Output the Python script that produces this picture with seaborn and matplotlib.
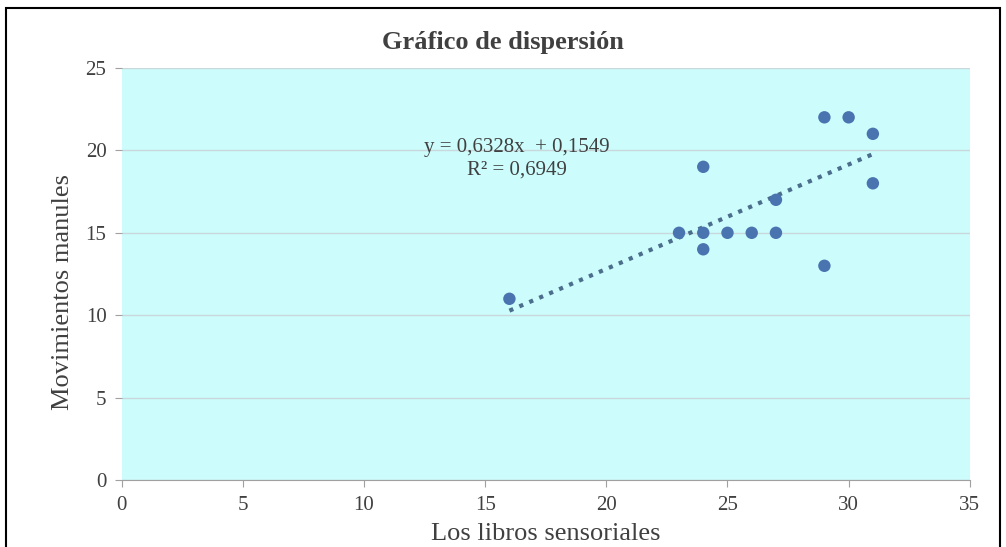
import numpy as np
import pandas as pd
import matplotlib
matplotlib.use("Agg")
import matplotlib.pyplot as plt
import seaborn as sns
from matplotlib.patches import Rectangle

# data
libros = [16, 23, 24, 24, 24, 25, 26, 27, 27, 29, 29, 30, 31, 31]
movimientos = [11, 15, 15, 19, 14, 15, 15, 15, 17, 22, 13, 22, 21, 18]
slope = 0.6328
intercept = 0.1549
r2 = 0.6949

df = pd.DataFrame({"x": libros, "y": movimientos})

sns.set_style("white")
plt.rcParams['font.family'] = ['Liberation Serif', 'DejaVu Serif']

fig = plt.figure(figsize=(10.06, 5.47), dpi=100)
ax = fig.add_axes([0.121, 0.122, 0.843, 0.754])
ax.set_facecolor("#ccfcfc")

sns.scatterplot(x="x", y="y", data=df, ax=ax, color="#4a74b0", s=80,
                edgecolor="none", zorder=3)

# linear trendline (dotted)
xs = np.array([min(libros), max(libros)])
ax.plot(xs, slope * xs + intercept, linestyle=(0, (1, 1.6)), linewidth=3,
        color="#4b6e8c", zorder=2)

ax.text(16.3, 20.2, "y = 0,6328x  + 0,1549", ha="center", va="center",
        fontsize=15, color="#404040")
ax.text(16.3, 18.8, "R² = 0,6949", ha="center", va="center",
        fontsize=15, color="#404040")

ax.set_xlim(0, 35)
ax.set_ylim(0, 25)
ax.set_xticks(range(0, 36, 5))
ax.set_yticks(range(0, 26, 5))
ax.yaxis.grid(True, color="#c8d8dc", linewidth=1)
ax.set_axisbelow(True)
for s in ["top", "right", "left"]:
    ax.spines[s].set_visible(False)
ax.spines["bottom"].set_color("#a0a0a0")
ax.tick_params(axis="both", direction="out", length=5, color="#a0a0a0",
               labelsize=15, labelcolor="#404040", pad=6,
               left=True, bottom=True)

ax.set_xlabel("Los libros sensoriales", fontsize=19, color="#404040",
              labelpad=6)
ax.set_ylabel("Movimientos manules", fontsize=19, color="#404040")
ax.yaxis.set_label_coords(-0.056, 0.456)
fig.suptitle("Gráfico de dispersión", x=0.5, y=0.923, va="center",
             fontsize=19, fontweight="bold", color="#404040")

# outer border
fig.patches.append(Rectangle((0.006, -0.01), 0.988, 0.995, transform=fig.transFigure,
                             fill=False, edgecolor="black", linewidth=1.5))

fig.savefig("out.png", dpi=100)
